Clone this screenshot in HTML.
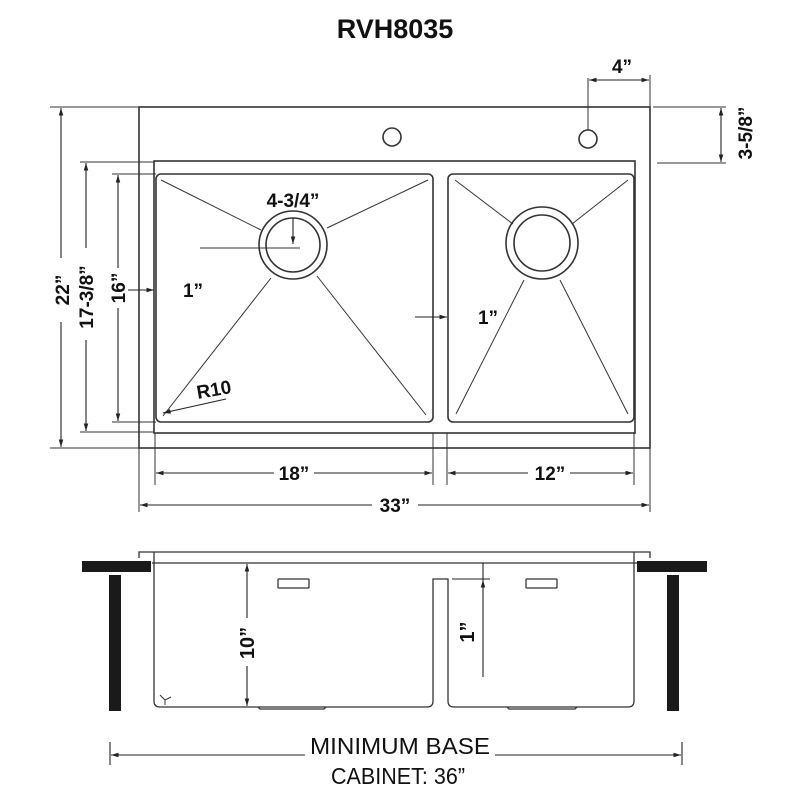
<!DOCTYPE html>
<html><head><meta charset="utf-8"><style>
html,body{margin:0;padding:0;background:#fff}
svg{display:block}
text{font-family:"Liberation Sans",sans-serif;font-weight:bold;fill:#111}
</style></head><body>
<svg width="800" height="800" viewBox="0 0 800 800" xmlns="http://www.w3.org/2000/svg">
<defs>
<marker id="a" viewBox="0 0 10 10" refX="10" refY="5" markerWidth="7" markerHeight="7" orient="auto-start-reverse"><path d="M0,2 L10,5 L0,8 z" fill="#222"/></marker>
</defs>
<text x="395" y="38" font-size="27" text-anchor="middle">RVH8035</text>
<g stroke="#333" fill="none" stroke-width="1.6">
<rect x="139" y="107" width="511" height="341"/>
<rect x="154" y="161" width="481" height="272"/>
<rect x="156" y="174" width="277" height="248" rx="5"/>
<rect x="448" y="174" width="186" height="248" rx="5"/>
<circle cx="392" cy="137" r="9"/><circle cx="588" cy="139" r="9"/>
<circle cx="293" cy="245" r="34"/><circle cx="293" cy="245" r="27"/>
<circle cx="542" cy="243" r="36"/><circle cx="542" cy="243" r="28"/>
</g>
<g stroke="#333" stroke-width="1">
<line x1="161" y1="180" x2="261" y2="230"/><line x1="428" y1="180" x2="327" y2="228"/>
<line x1="163" y1="416" x2="271" y2="278"/><line x1="426" y1="415" x2="317" y2="276"/>
<line x1="455" y1="180" x2="513" y2="224"/><line x1="628" y1="180" x2="572" y2="224"/>
<line x1="456" y1="414" x2="524" y2="280"/><line x1="628" y1="414" x2="560" y2="280"/>
<line x1="50" y1="107" x2="139" y2="107"/><line x1="50" y1="448" x2="139" y2="448"/>
<line x1="80" y1="162" x2="154" y2="162"/><line x1="80" y1="432" x2="154" y2="432"/>
<line x1="112" y1="174" x2="156" y2="174"/><line x1="112" y1="422" x2="156" y2="422"/>
<line x1="653" y1="107" x2="726" y2="107"/><line x1="657" y1="163" x2="726" y2="163"/>
<line x1="588" y1="78" x2="588" y2="130"/><line x1="650" y1="75" x2="650" y2="107"/>
<line x1="155" y1="433" x2="155" y2="485"/><line x1="433" y1="433" x2="433" y2="485"/>
<line x1="447" y1="433" x2="447" y2="485"/><line x1="634" y1="433" x2="634" y2="485"/>
<line x1="139" y1="448" x2="139" y2="512"/><line x1="650" y1="448" x2="650" y2="512"/>
<line x1="200" y1="248" x2="300" y2="248"/>
</g>
<g stroke="#222" stroke-width="1.1" fill="none" marker-start="url(#a)" marker-end="url(#a)">
<line x1="61" y1="108" x2="61" y2="447"/>
<line x1="86" y1="163" x2="86" y2="431"/>
<line x1="118" y1="175" x2="118" y2="421"/>
<line x1="721" y1="108" x2="721" y2="162"/>
<line x1="589" y1="80" x2="649" y2="80"/>
<line x1="156" y1="473" x2="432" y2="473"/>
<line x1="448" y1="473" x2="633" y2="473"/>
<line x1="140" y1="505" x2="649" y2="505"/>
</g>
<g stroke="#222" stroke-width="1.1" fill="none" marker-end="url(#a)">
<line x1="125" y1="290" x2="154" y2="290"/>
<line x1="415" y1="317" x2="447" y2="317"/>
<line x1="293" y1="218" x2="293" y2="244"/>
<line x1="226" y1="399" x2="163" y2="413"/>
</g>
<g font-size="19">
<rect x="50" y="258" width="24" height="64" fill="#fff"/>
<text transform="translate(69,290) rotate(-90)" text-anchor="middle">22”</text>
<rect x="76" y="248" width="22" height="92" fill="#fff"/>
<text transform="translate(93,297) rotate(-90)" text-anchor="middle">17-3/8”</text>
<rect x="108" y="268" width="20" height="40" fill="#fff"/>
<text transform="translate(125,288) rotate(-90)" text-anchor="middle">16”</text>
<text transform="translate(752,133) rotate(-90)" text-anchor="middle">3-5/8”</text>
<text x="622" y="73" text-anchor="middle">4”</text>
<text x="193" y="297" text-anchor="middle">1”</text>
<text x="488" y="324" text-anchor="middle">1”</text>
<text x="293" y="207" text-anchor="middle">4-3/4”</text>
<text transform="translate(215,396) rotate(-10)" text-anchor="middle">R10</text>
<rect x="274" y="462" width="40" height="22" fill="#fff"/>
<text x="294" y="480" text-anchor="middle">18”</text>
<rect x="528" y="462" width="42" height="22" fill="#fff"/>
<text x="550" y="480" text-anchor="middle">12”</text>
<rect x="372" y="494" width="46" height="22" fill="#fff"/>
<text x="395" y="512" text-anchor="middle">33”</text>
</g>
<!-- elevation -->
<g stroke="#333" stroke-width="1.3" fill="none">
<path d="M139,558 V552 H650 V558"/>
<line x1="152" y1="563" x2="637" y2="563"/>
<path d="M154,552 V701 Q154,707 160,707 H427 Q433,707 433,701 V579 H448 V701 Q448,707 454,707 H628 Q634,707 634,701 V552"/>
<rect x="278" y="579" width="31" height="9" rx="1"/>
<rect x="526" y="579" width="31" height="9" rx="1"/>
<path d="M258,707 L260,709 H324 L326,707"/><path d="M507,707 L509,709 H575 L577,707"/>
<path d="M160,695 L165,700 M171,697 L165,700 L165,705" stroke-width="1"/>
</g>
<rect x="82" y="561" width="69" height="11" fill="#1a1a1a"/>
<rect x="637" y="561" width="70" height="11" fill="#1a1a1a"/>
<rect x="109" y="575" width="12" height="136" fill="#1a1a1a"/>
<rect x="667" y="575" width="12" height="136" fill="#1a1a1a"/>
<g stroke="#222" stroke-width="1.1" fill="none">
<line x1="247" y1="564" x2="247" y2="706" marker-start="url(#a)" marker-end="url(#a)"/>
<line x1="483" y1="580" x2="483" y2="677" marker-start="url(#a)"/>
<line x1="483" y1="563" x2="483" y2="580"/>
<line x1="452" y1="579" x2="490" y2="579"/>
<line x1="111" y1="755" x2="305" y2="755" marker-start="url(#a)"/>
<line x1="495" y1="755" x2="681" y2="755" marker-end="url(#a)"/>
<line x1="110" y1="742" x2="110" y2="765"/><line x1="682" y1="742" x2="682" y2="765"/>
</g>
<rect x="237" y="618" width="20" height="48" fill="#fff"/>
<text transform="translate(254,643) rotate(-90)" text-anchor="middle" font-size="20">10”</text>
<text transform="translate(474,632) rotate(-90)" text-anchor="middle" font-size="20">1”</text>
<text x="400" y="754" text-anchor="middle" font-size="23" textLength="180" lengthAdjust="spacingAndGlyphs" style="font-weight:normal">MINIMUM BASE</text>
<text x="398" y="784" text-anchor="middle" font-size="23" textLength="134" lengthAdjust="spacingAndGlyphs" style="font-weight:normal">CABINET: 36”</text>
</svg>
</body></html>
